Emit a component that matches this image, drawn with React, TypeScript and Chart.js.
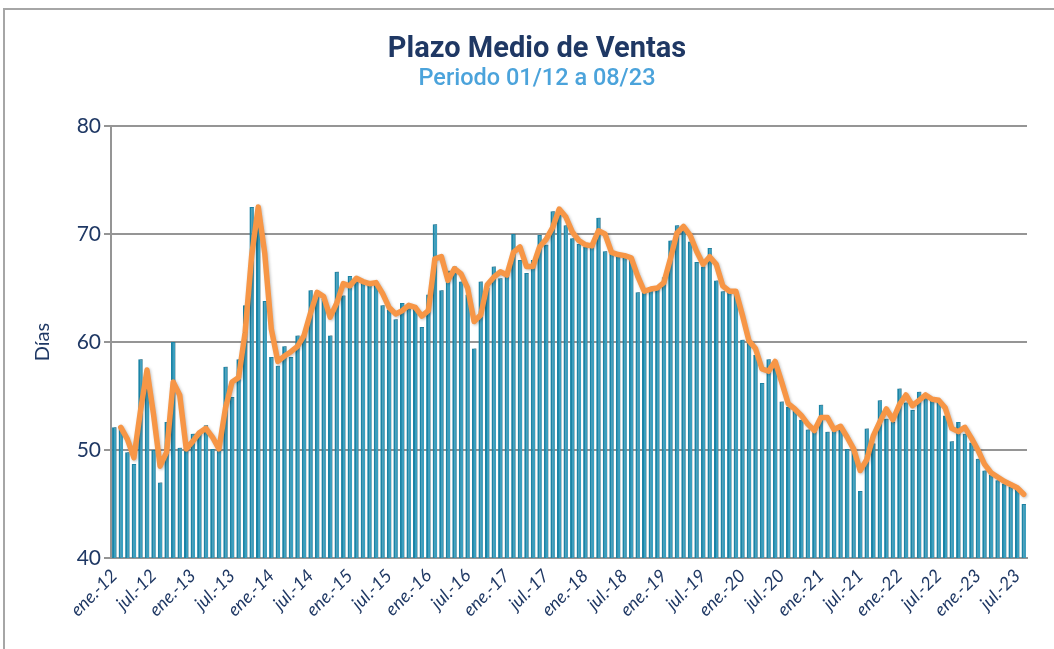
import { useEffect, useRef } from "react";
import { Chart, registerables } from "chart.js";

Chart.register(...registerables);

// ---- data ----
const MONTHS = ["ene.", "feb.", "mar.", "abr.", "may.", "jun.", "jul.", "ago.", "sept.", "oct.", "nov.", "dic."];
const YEARS = ["12", "13", "14", "15", "16", "17", "18", "19", "20", "21", "22", "23"];
const CATEGORIES: string[] = YEARS.flatMap((y) => MONTHS.map((m) => `${m}-${y}`)).slice(0, 140);

// Plazo medio de ventas (días), ene-12 .. ago-23
const DIAS = [
  52.1, 52.1, 49.8, 48.7, 58.4, 56.5, 50.0, 47.0, 52.6, 60.0, 50.2, 50.0,
  51.5, 51.7, 52.3, 50.1, 50.0, 57.7, 54.9, 58.4, 63.4, 72.5, 72.5, 63.8,
  58.6, 57.8, 59.6, 58.6, 60.6, 60.6, 64.8, 64.4, 64.0, 60.6, 66.5, 64.3,
  66.1, 65.6, 65.5, 65.3, 65.6, 63.4, 63.0, 62.1, 63.6, 63.1, 63.3, 61.4,
  64.4, 70.9, 64.8, 66.6, 67.0, 65.6, 64.4, 59.4, 65.6, 65.0, 67.0, 65.9,
  66.5, 70.0, 67.6, 66.4, 67.6, 69.9, 69.0, 72.1, 72.4, 70.8, 69.6, 69.1,
  68.8, 69.0, 71.5, 68.4, 68.2, 68.0, 67.9, 67.6, 64.6, 64.8, 65.0, 64.9,
  66.0, 69.4, 70.8, 70.5, 69.3, 67.4, 67.0, 68.7, 65.7, 64.7, 64.7, 64.7,
  60.2, 60.0, 58.8, 56.2, 58.4, 58.0, 54.5, 54.0, 53.6, 52.8, 51.9, 51.7,
  54.2, 51.7, 52.0, 52.3, 50.1, 50.0, 46.2, 52.0, 50.6, 54.6, 52.9, 52.6,
  55.7, 54.4, 53.7, 55.4, 54.8, 54.6, 54.6, 53.2, 50.8, 52.6, 51.5, 50.7,
  49.2, 48.1, 47.7, 47.2, 46.9, 46.6, 46.4, 45.0,
];

// Tendencia (media móvil de 2 períodos)
const MEDIA_MOVIL = [
  null, 52.1, 51.0, 49.3, 53.6, 57.4, 53.3, 48.5, 49.8, 56.3, 55.1, 50.1,
  50.8, 51.6, 52.0, 51.2, 50.1, 53.9, 56.3, 56.7, 60.9, 68.0, 72.5, 68.2,
  61.2, 58.2, 58.7, 59.1, 59.6, 60.6, 62.7, 64.6, 64.2, 62.3, 63.6, 65.4,
  65.2, 65.9, 65.6, 65.4, 65.5, 64.5, 63.2, 62.6, 62.9, 63.4, 63.2, 62.4,
  62.9, 67.7, 67.9, 65.7, 66.8, 66.3, 65.0, 61.9, 62.5, 65.3, 66.0, 66.5,
  66.2, 68.3, 68.8, 67.0, 67.0, 68.8, 69.5, 70.6, 72.3, 71.6, 70.2, 69.4,
  69.0, 68.9, 70.3, 70.0, 68.3, 68.1, 68.0, 67.8, 66.1, 64.7, 64.9, 65.0,
  65.5, 67.7, 70.1, 70.7, 69.9, 68.4, 67.2, 67.9, 67.2, 65.2, 64.7, 64.7,
  62.5, 60.1, 59.4, 57.5, 57.3, 58.2, 56.3, 54.3, 53.8, 53.2, 52.4, 51.8,
  53.0, 53.0, 51.9, 52.2, 51.2, 50.1, 48.1, 49.1, 51.3, 52.6, 53.8, 52.8,
  54.2, 55.1, 54.1, 54.6, 55.1, 54.7, 54.6, 53.9, 52.0, 51.7, 52.1, 51.1,
  50.0, 48.7, 47.9, 47.5, 47.1, 46.8, 46.5, 45.9,
];

const Y_TICKS = [40, 50, 60, 70, 80];
const TITLE = "Plazo Medio de Ventas";
const SUBTITLE = "Periodo 01/12 a 08/23";
const Y_TITLE = "Días";

const NAVY = "#1F3864";
const GRID = "#959595";

const shadowPlugin = {
  id: "shadowPlugin",
  beforeDatasetDraw(chart: any, args: any) {
    const ds = chart.data.datasets[args.index];
    const ctx = chart.ctx;
    ctx.save();
    if (ds.type === "bar") {
      ctx.shadowColor = "rgba(105,105,105,0.8)";
      ctx.shadowBlur = 1.5;
      ctx.shadowOffsetX = 2;
      ctx.shadowOffsetY = -1;
    } else {
      ctx.shadowColor = "rgba(0,0,0,0.25)";
      ctx.shadowBlur = 3;
      ctx.shadowOffsetX = 1;
      ctx.shadowOffsetY = 1;
    }
  },
  afterDatasetDraw(chart: any) {
    chart.ctx.restore();
  },
};

export default function App() {
  const canvasRef = useRef<HTMLCanvasElement | null>(null);

  useEffect(() => {
    const canvas = canvasRef.current;
    if (!canvas) return;
    const chart = new Chart(canvas, {
      type: "bar",
      data: {
        labels: CATEGORIES,
        datasets: [
          {
            type: "line",
            label: "Media móvil",
            data: MEDIA_MOVIL as any,
            borderColor: "#F79646",
            borderWidth: 5.5,
            pointRadius: 0,
            tension: 0,
            borderJoinStyle: "round",
            borderCapStyle: "round",
            spanGaps: false,
            order: 0,
          } as any,
          {
            type: "bar",
            label: "Días",
            data: DIAS,
            backgroundColor: "#3A9FBF",
            borderColor: "#1A84A6",
            borderWidth: { left: 2, top: 1, right: 0, bottom: 0 },
            borderSkipped: false,
            categoryPercentage: 1,
            barPercentage: 0.68,
            order: 1,
          } as any,
        ],
      },
      options: {
        responsive: false,
        animation: false,
        devicePixelRatio: 1,
        layout: { padding: { left: 27, top: 126, right: 27, bottom: 0 } },
        plugins: {
          legend: { display: false },
          tooltip: { enabled: false },
          title: { display: false },
        },
        scales: {
          x: {
            type: "category",
            grid: { display: false },
            border: { display: true, color: GRID, width: 2 },
            ticks: {
              autoSkip: false,
              maxRotation: 45,
              minRotation: 45,
              padding: -1,
              color: NAVY,
              font: { family: "Lato", size: 18, style: "italic" },
              callback: (_v: any, i: number) => (i % 6 === 0 ? CATEGORIES[i] : ""),
            },
            afterFit: (s: any) => {
              s.height = 91;
            },
          },
          y: {
            min: Y_TICKS[0],
            max: Y_TICKS[Y_TICKS.length - 1],
            afterBuildTicks: (s: any) => {
              s.ticks = Y_TICKS.map((v) => ({ value: v }));
            },
            grid: { color: GRID, lineWidth: 2, tickLength: 7, tickColor: GRID, drawTicks: true },
            border: { display: true, color: GRID, width: 2 },
            ticks: {
              padding: 3,
              color: NAVY,
              font: { family: "Lato", size: 21 },
            },
            title: {
              display: true,
              text: Y_TITLE,
              color: NAVY,
              font: { family: "Lato", size: 20 },
              padding: { top: 4, bottom: 4 },
            },
            afterFit: (s: any) => {
              s.width = 84;
            },
          },
        },
      },
      plugins: [shadowPlugin],
    });
    return () => chart.destroy();
  }, []);

  return (
    <div
      style={{
        position: "fixed",
        left: 0,
        top: 0,
        width: 1054,
        height: 649,
        background: "#fff",
        overflow: "hidden",
      }}
    >
      <canvas ref={canvasRef} width={1054} height={649} style={{ position: "absolute", left: 0, top: 0, width: 1054, height: 649 }} />
      <div
        style={{
          position: "absolute",
          left: 3,
          top: 8,
          width: 1051,
          height: 641,
          borderTop: "2px solid #A6A6A6",
          borderLeft: "2px solid #A6A6A6",
          boxSizing: "border-box",
          pointerEvents: "none",
        }}
      />
      <div
        style={{
          position: "absolute",
          left: 0,
          width: 1074,
          top: 30,
          textAlign: "center",
          fontFamily: "Roboto",
          fontWeight: 700,
          fontSize: 29,
          color: NAVY,
          lineHeight: "34px",
          whiteSpace: "nowrap",
        }}
      >
        {TITLE}
      </div>
      <div
        style={{
          position: "absolute",
          left: 0,
          width: 1074,
          top: 64,
          textAlign: "center",
          fontFamily: "Roboto",
          fontWeight: 500,
          fontSize: 23.5,
          color: "#4BA3DB",
          lineHeight: "26px",
          whiteSpace: "nowrap",
        }}
      >
        {SUBTITLE}
      </div>
    </div>
  );
}
